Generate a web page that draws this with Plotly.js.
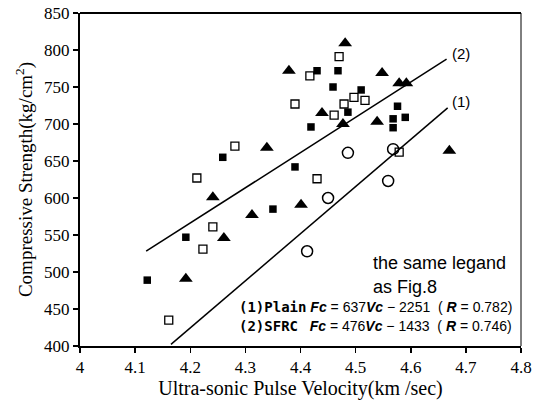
<!DOCTYPE html>
<html>
<head>
<meta charset="utf-8">
<script src="https://cdn.plot.ly/plotly-3.0.1.min.js"></script>
<style>html,body{margin:0;padding:0;background:#fff;}#chart{width:536px;height:402px;}</style>
</head>
<body>
<div id="chart"></div>
<script>
// Filled triangles
const triVel = [4.192, 4.261, 4.241, 4.312, 4.401, 4.339, 4.379, 4.439, 4.477, 4.481, 4.548, 4.539, 4.579, 4.592, 4.670];
const triStr = [491, 546, 601, 577, 591, 668, 772, 715, 700, 809, 769, 703, 755, 755, 664];
// Filled squares
const sqVel = [4.122, 4.192, 4.259, 4.350, 4.390, 4.419, 4.430, 4.468, 4.459, 4.486, 4.510, 4.576, 4.590, 4.568, 4.568];
const sqStr = [489, 547, 655, 585, 642, 696, 772, 772, 750, 716, 746, 724, 709, 707, 695];
// Open squares
const osqVel = [4.161, 4.223, 4.241, 4.212, 4.281, 4.430, 4.390, 4.417, 4.470, 4.461, 4.479, 4.497, 4.517, 4.579];
const osqStr = [435, 531, 561, 627, 670, 626, 727, 765, 791, 712, 727, 736, 732, 662];
// Open circles
const circVel = [4.412, 4.450, 4.486, 4.559, 4.568];
const circStr = [528, 600, 661, 623, 666];
// Tick labels
const xTicks = [4, 4.1, 4.2, 4.3, 4.4, 4.5, 4.6, 4.7, 4.8];
const xTickText = ['4', '4.1', '4.2', '4.3', '4.4', '4.5', '4.6', '4.7', '4.8'];
const yTicks = [400, 450, 500, 550, 600, 650, 700, 750, 800, 850];
const yTickText = ['400', '450', '500', '550', '600', '650', '700', '750', '800', '850'];
// Regression lines: Fc = a*Vc + b over drawn range
const lineNames = ['(1)', '(2)'];
const lineSlope = [637, 476];
const lineIntercept = [-2251, -1433];
const lineFrom = [4.165, 4.12];
const lineTo = [4.667, 4.665];

const traces = [];
for (let i = 0; i < 2; i++) {
  const xs = [lineFrom[i], lineTo[i]];
  traces.push({x: xs, y: xs.map(v => lineSlope[i] * v + lineIntercept[i]), mode: 'lines',
    line: {color: '#000', width: 1.5}, showlegend: false, hoverinfo: 'skip'});
}
traces.push({x: triVel, y: triStr, mode: 'markers', marker: {symbol: 'triangle-up', size: 12, color: '#000'}});
traces.push({x: sqVel, y: sqStr, mode: 'markers', marker: {symbol: 'square', size: 7.5, color: '#000'}});
traces.push({x: osqVel, y: osqStr, mode: 'markers', marker: {symbol: 'square-open', size: 8, color: '#000', line: {width: 1.3}}});
traces.push({x: circVel, y: circStr, mode: 'markers', marker: {symbol: 'circle-open', size: 11, color: '#000', line: {width: 1.5}}});

const serif = 'Liberation Serif';
const sans = 'Liberation Sans';
const wrapSerif = t => '<span style="font-family:Liberation Serif">' + t + '</span>';

const annotations = [
  {x: 4.672, y: lineSlope[1] * 4.672 + lineIntercept[1] + 4, text: lineNames[1], xanchor: 'left', showarrow: false, font: {family: sans, size: 15, color: '#000'}},
  {x: 4.672, y: lineSlope[0] * 4.672 + lineIntercept[0] + 6, text: lineNames[0], xanchor: 'left', showarrow: false, font: {family: sans, size: 15, color: '#000'}},
  {x: 4.528, y: 512, text: 'the same legand', xanchor: 'left', showarrow: false, font: {family: sans, size: 18, color: '#000'}},
  {x: 4.528, y: 480, text: 'as Fig.8', xanchor: 'left', showarrow: false, font: {family: sans, size: 18, color: '#000'}},
  {x: 4.285, y: 453, xanchor: 'left', showarrow: false, font: {family: sans, size: 14, color: '#000'},
   text: '<span style="font-family:DejaVu Sans Mono;font-weight:bold">(1)Plain</span> <b><i>Fc</i></b> = 637<b><i>Vc</i></b> − 2251  ( <b><i>R</i></b> = 0.782)'},
  {x: 4.285, y: 427, xanchor: 'left', showarrow: false, font: {family: sans, size: 14, color: '#000'},
   text: '<span style="font-family:DejaVu Sans Mono;font-weight:bold">(2)SFRC</span>   <b><i>Fc</i></b> = 476<b><i>Vc</i></b> − 1433  ( <b><i>R</i></b> = 0.746)'}
];

const layout = {
  width: 536, height: 402,
  margin: {l: 80, r: 15, t: 13, b: 56},
  paper_bgcolor: '#fff', plot_bgcolor: '#fff',
  font: {family: serif, size: 17, color: '#000'},
  showlegend: false,
  xaxis: {range: [4, 4.8], tickmode: 'array', tickvals: xTicks, ticktext: xTickText.map(wrapSerif), showgrid: false, zeroline: false,
    showline: true, linewidth: 2, linecolor: '#000', ticks: 'outside', ticklen: 5, tickwidth: 1.5, tickcolor: '#000',
    tickfont: {family: serif, size: 17, color: '#000'},
    title: {text: 'Ultra-sonic Pulse Velocity(km /sec)', font: {family: serif, size: 20, color: '#000'}, standoff: 4}},
  yaxis: {range: [400, 850], tickmode: 'array', tickvals: yTicks, ticktext: yTickText.map(wrapSerif), showgrid: false, zeroline: false,
    showline: true, linewidth: 2, linecolor: '#000', ticks: 'outside', ticklen: 5, tickwidth: 1.5, tickcolor: '#000',
    tickfont: {family: serif, size: 17, color: '#000'},
    title: {text: 'Compressive Strength(kg/cm<sup>2</sup>)', font: {family: serif, size: 19, color: '#000'}, standoff: 6}},
  shapes: [
    {type: 'line', xref: 'paper', yref: 'paper', x0: 0, x1: 1, y0: 1, y1: 1, line: {color: '#000', width: 2}},
    {type: 'line', xref: 'paper', yref: 'paper', x0: 1, x1: 1, y0: 0, y1: 1, line: {color: '#000', width: 1}}
  ],
  annotations: annotations
};

Plotly.newPlot('chart', traces, layout, {staticPlot: true, displayModeBar: false});
</script>
</body>
</html>
